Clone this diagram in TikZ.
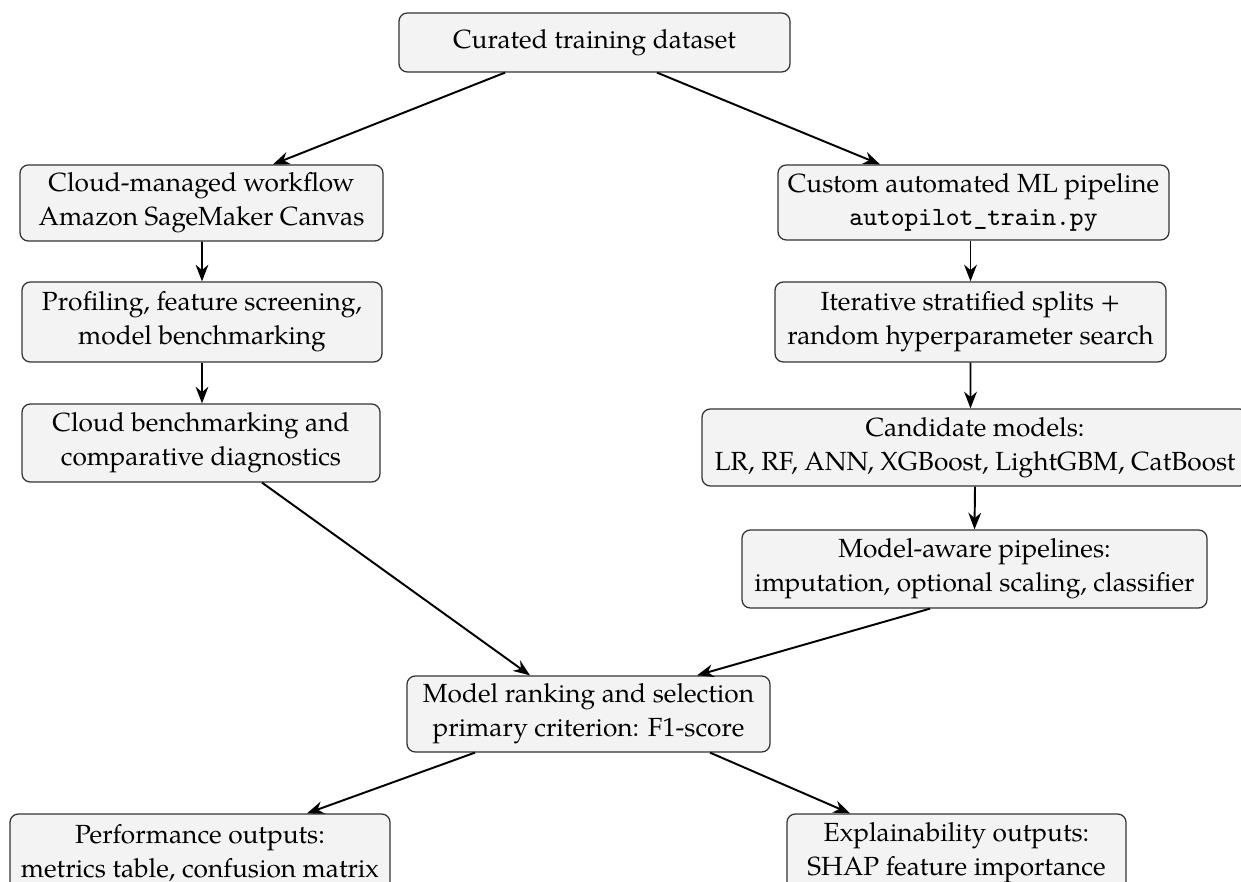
\documentclass[tikz,border=0pt]{standalone}
\usepackage{fontspec}
\setmainfont{TeX Gyre Pagella}
\usetikzlibrary{arrows.meta,calc}
\definecolor{boxfill}{HTML}{F3F3F3}
\definecolor{boxdraw}{HTML}{333333}
\tikzset{
  box/.style={draw=boxdraw, line width=0.45pt, fill=boxfill, rounded corners=3pt,
    align=center, inner sep=0pt, font=\fontsize{9.45}{12.2}\selectfont},
  arr/.style={line width=0.7pt, -{Stealth[length=6pt,width=4.6pt]}}
}
\begin{document}
\begin{tikzpicture}[x=0.36pt,y=-0.36pt]
\useasboundingbox (0,0) rectangle (1241,882);
\node[box, minimum width=391*0.36pt, minimum height=59*0.36pt] (top) at (594.5,42.5) {Curated training dataset};
\node[box, minimum width=363*0.36pt, minimum height=76*0.36pt] (L1) at (201.5,203) {Cloud-managed workflow\\Amazon SageMaker Canvas};
\node[box, minimum width=391*0.36pt, minimum height=75*0.36pt] (R1) at (973.5,202.5) {Custom automated ML pipeline\\\texttt{autopilot\_train.py}};
\node[box, minimum width=360*0.36pt, minimum height=80*0.36pt] (L2) at (202,322) {Profiling, feature screening,\\model benchmarking};
\node[box, minimum width=391*0.36pt, minimum height=80*0.36pt] (R2) at (970.5,322) {Iterative stratified splits +\\random hyperparameter search};
\node[box, minimum width=546*0.36pt, minimum height=77*0.36pt] (R3) at (975,447.5) {Candidate models:\\LR, RF, ANN, XGBoost, LightGBM, CatBoost};
\node[box, minimum width=358*0.36pt, minimum height=78*0.36pt] (L3) at (201,443) {Cloud benchmarking and\\comparative diagnostics};
\node[box, minimum width=465*0.36pt, minimum height=78*0.36pt] (R4) at (974.5,569) {Model-aware pipelines:\\imputation, optional scaling, classifier};
\node[box, minimum width=363*0.36pt, minimum height=76*0.36pt] (M) at (588.5,714) {Model ranking and selection\\primary criterion: F1-score};
\node[box, minimum width=380*0.36pt, minimum height=78*0.36pt] (BL) at (200,853) {Performance outputs:\\metrics table, confusion matrix};
\node[box, minimum width=339*0.36pt, minimum height=78*0.36pt] (BR) at (956.5,853) {Explainability outputs:\\SHAP feature importance};
\draw[arr] ($(top.south)+(-89.5,0)$) -- ($(L1.north)+(71.5,0)$);
\draw[arr] ($(top.south)+(62.5,0)$) -- ($(R1.north)+(-93.5,0)$);
\draw[arr] ($(L1.south)+(0.5,0)$) -- (L2.north);
\draw[arr] (L2.south) -- ($(L3.north)+(1,0)$);
\draw[arr] ($(R1.south)+(-3,0)$) -- (R2.north);
\draw[arr] (R2.south) -- ($(R3.north)+(-4.5,0)$);
\draw[arr] (R3.south) -- (R4.north);
\draw[arr] ($(L3.south)+(61,0)$) -- ($(M.north)+(-58.5,0)$);
\draw[arr] ($(R4.south)+(-44.5,0)$) -- ($(M.north)+(108.5,0)$);
\draw[arr] ($(M.south)+(-113.5,0)$) -- ($(BL.north)+(107,0)$);
\draw[arr] ($(M.south)+(121.5,0)$) -- ($(BR.north)+(-106.5,0)$);
\end{tikzpicture}
\end{document}
